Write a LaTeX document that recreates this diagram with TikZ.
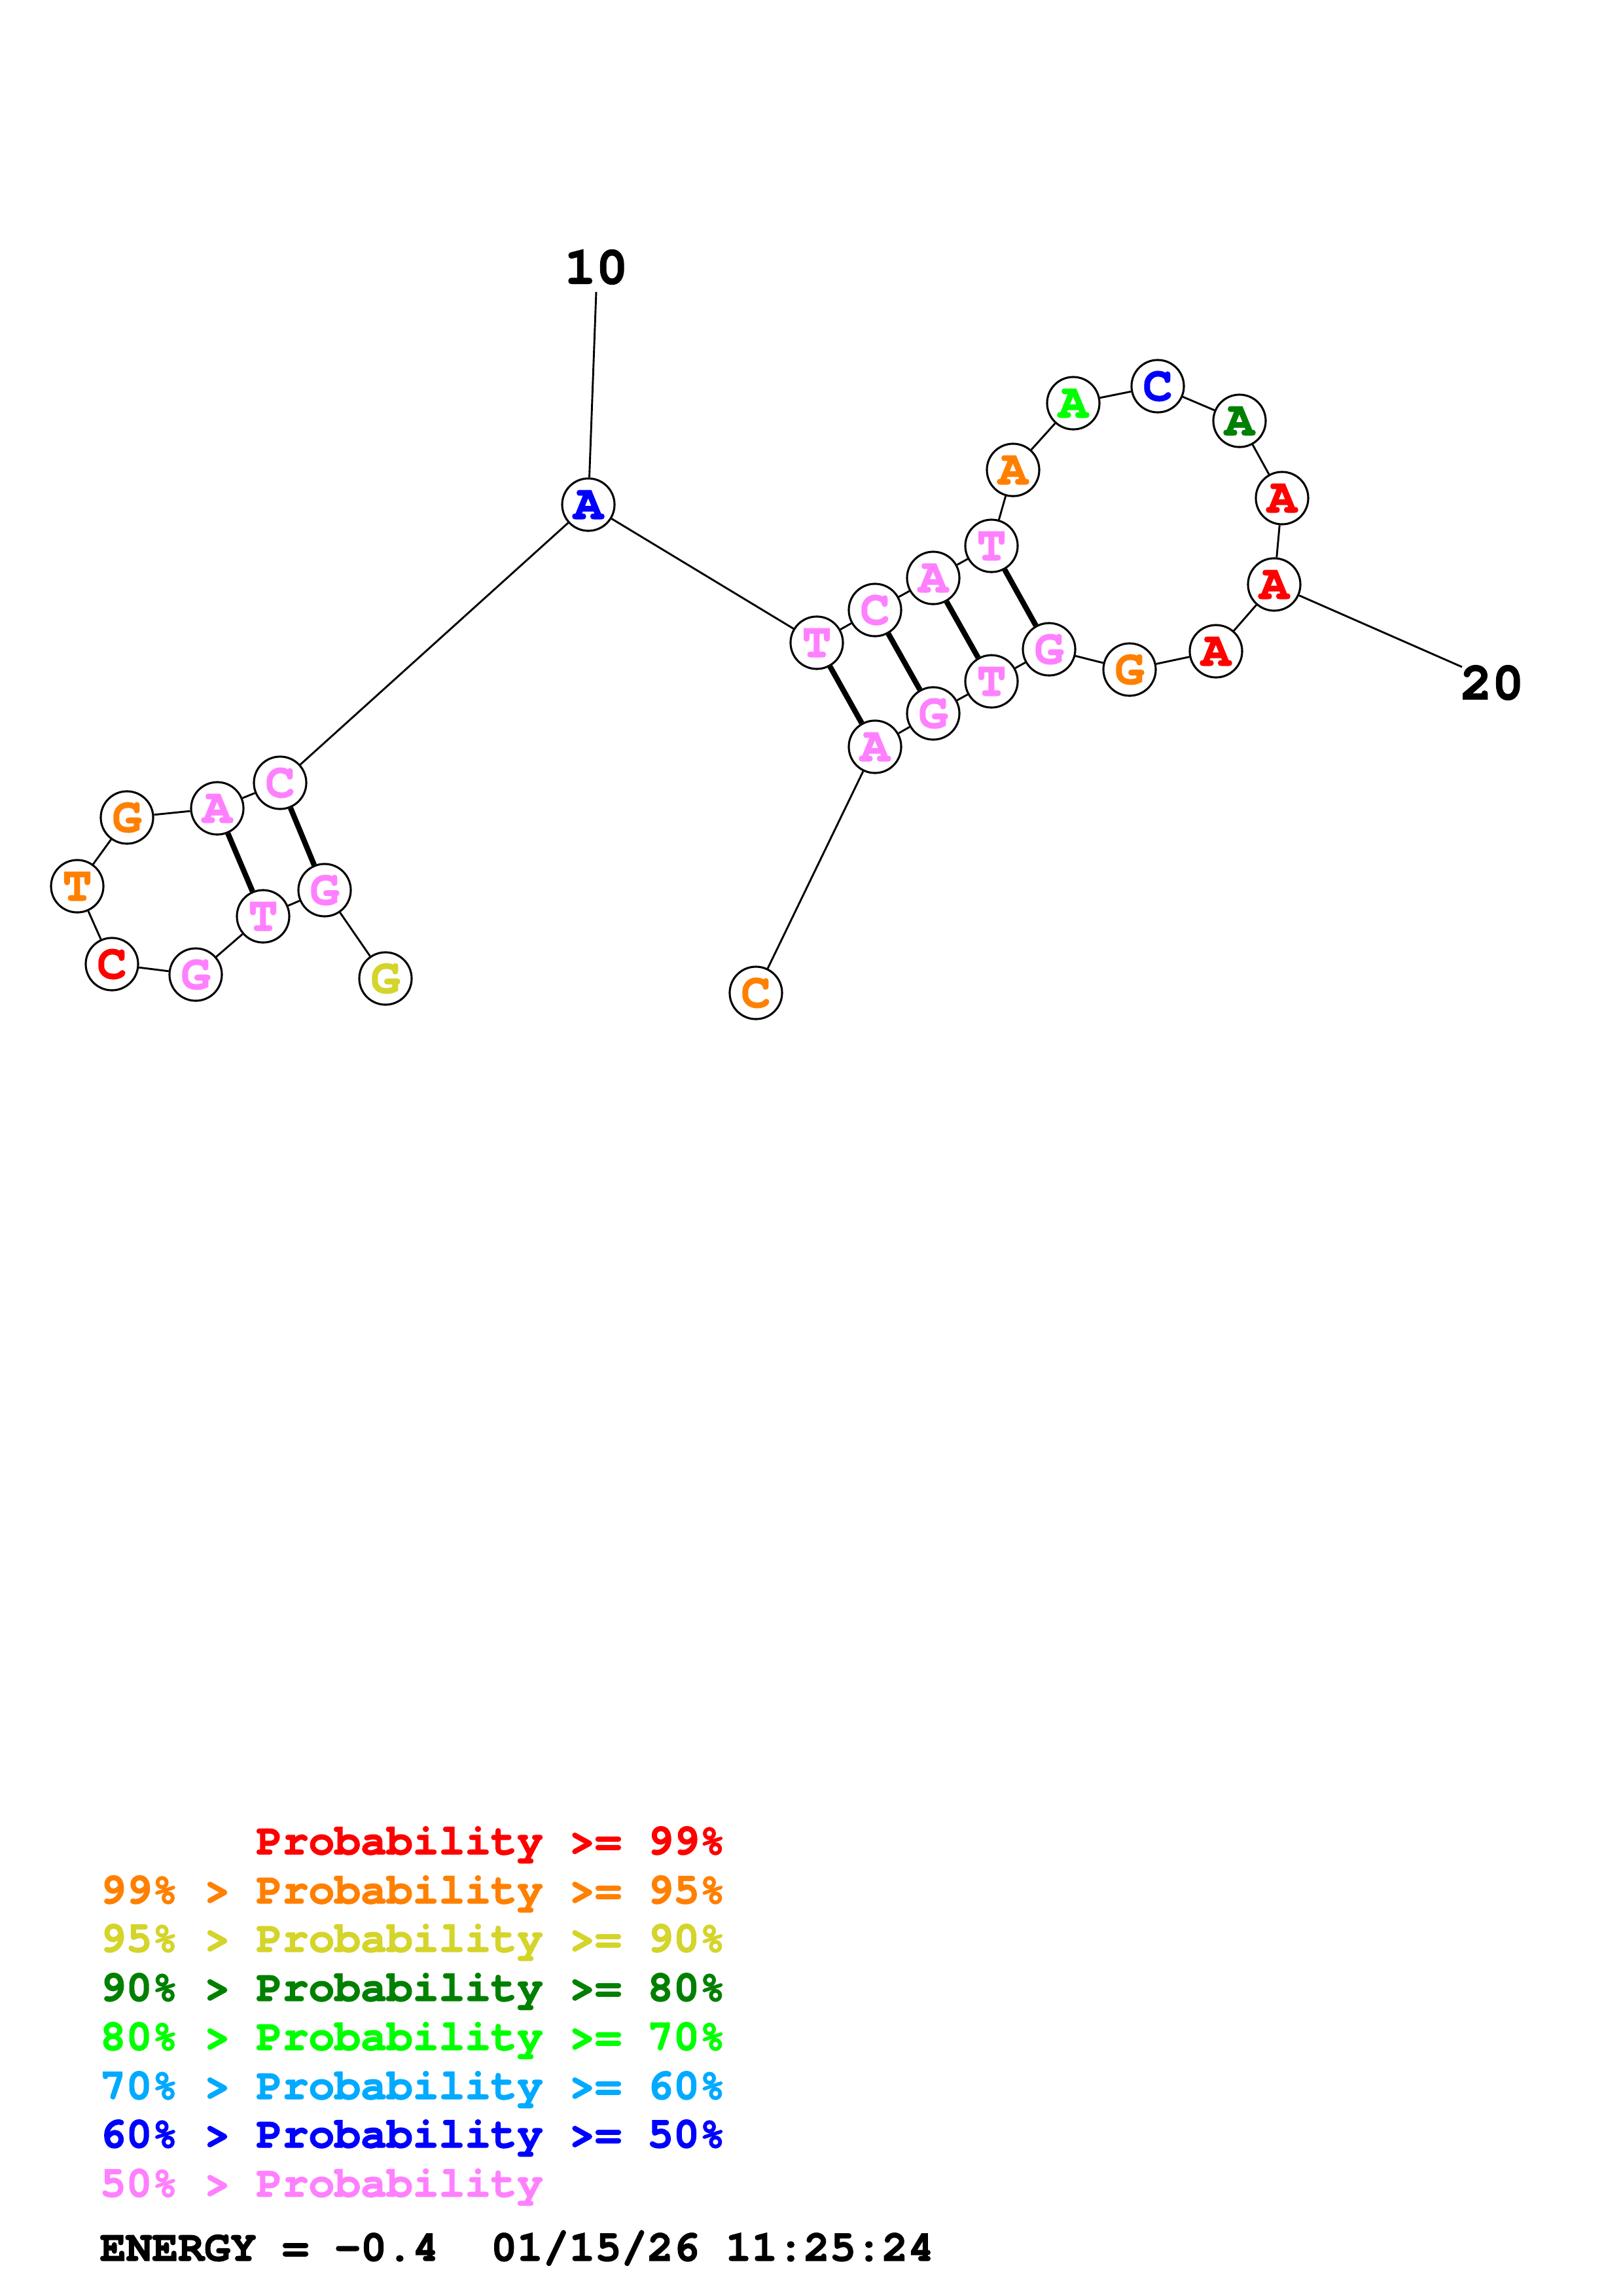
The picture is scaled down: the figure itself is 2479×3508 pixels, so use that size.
\documentclass[tikz,border=0pt]{standalone}
\usepackage{fontspec}
\newfontfamily\cour{TeX Gyre Cursor}[BoldFeatures={FakeBold=2}]
\definecolor{cR}{RGB}{255,0,0}
\definecolor{cO}{RGB}{255,128,0}
\definecolor{cY}{RGB}{212,212,42}
\definecolor{cDG}{RGB}{0,128,0}
\definecolor{cG}{RGB}{0,255,0}
\definecolor{cLB}{RGB}{0,170,255}
\definecolor{cB}{RGB}{0,0,255}
\definecolor{cP}{RGB}{255,128,255}
\begin{document}
\begin{tikzpicture}[x=0.08471mm,y=-0.08471mm,
  nt/.style={circle,draw,line width=0.75pt,fill=white,minimum size=6.78mm,inner sep=0pt,
    font={\cour\bfseries\fontsize{18pt}{20pt}\selectfont}},
  bb/.style={line width=0.7pt},
  pairline/.style={line width=2pt},
  numlab/.style={font={\cour\bfseries\fontsize{19.5pt}{22pt}\selectfont}},
  leg/.style={anchor=base west,inner sep=0pt,font={\cour\bfseries\fontsize{16pt}{19pt}\selectfont}}]
\path[use as bounding box] (0,0) rectangle (2479,3508);
% nucleotides
\node[nt,text=cY]  (n1)  at (589,1495) {G};
\node[nt,text=cP]  (n2)  at (496,1360) {G};
\node[nt,text=cP]  (n3)  at (402,1400) {T};
\node[nt,text=cP]  (n4)  at (299,1489) {G};
\node[nt,text=cR]  (n5)  at (171,1473) {C};
\node[nt,text=cO]  (n6)  at (118,1354) {T};
\node[nt,text=cO]  (n7)  at (194,1249) {G};
\node[nt,text=cP]  (n8)  at (332,1235) {A};
\node[nt,text=cP]  (n9)  at (428,1196) {C};
\node[nt,text=cB]  (n10) at (899,771) {A};
\node[nt,text=cP]  (n11) at (1248,982) {T};
\node[nt,text=cP]  (n12) at (1337,932) {C};
\node[nt,text=cP]  (n13) at (1426,883) {A};
\node[nt,text=cP]  (n14) at (1515,834) {T};
\node[nt,text=cO]  (n15) at (1548,718) {A};
\node[nt,text=cG]  (n16) at (1640,616) {A};
\node[nt,text=cB]  (n17) at (1769,590) {C};
\node[nt,text=cDG] (n18) at (1894,643) {A};
\node[nt,text=cR]  (n19) at (1959,761) {A};
\node[nt,text=cR]  (n20) at (1947,893) {A};
\node[nt,text=cR]  (n21) at (1858,995) {A};
\node[nt,text=cO]  (n22) at (1726,1023) {G};
\node[nt,text=cP]  (n23) at (1603,992) {G};
\node[nt,text=cP]  (n24) at (1515,1041) {T};
\node[nt,text=cP]  (n25) at (1426,1090) {G};
\node[nt,text=cP]  (n26) at (1337,1141) {A};
\node[nt,text=cO]  (n27) at (1155,1517) {C};
% backbone
\foreach \a/\b in {1/2,2/3,3/4,4/5,5/6,6/7,7/8,8/9,9/10,10/11,11/12,12/13,13/14,14/15,15/16,16/17,17/18,18/19,19/20,20/21,21/22,22/23,23/24,24/25,25/26,26/27}
  \draw[bb] (n\a) -- (n\b);
% pairs
\foreach \a/\b in {9/2,8/3,11/26,12/25,13/24,14/23}
  \draw[pairline] (n\a) -- (n\b);
% numbering
\node[numlab] (lab10) at (911,408) {10};
\coordinate (t10) at (911,446);
\draw[bb] (t10) -- (n10);
\node[numlab] (lab20) at (2280,1043) {20};
\coordinate (t20) at (2234,1019);
\draw[bb] (t20) -- (n20);
% legend
\node[leg,text=cR]  (L1) at (152,2833) {\phantom{99\% > }Probability >= 99\%};
\node[leg,text=cO]  (L2) at (152,2908) {99\% > Probability >= 95\%};
\node[leg,text=cY]  (L3) at (152,2982) {95\% > Probability >= 90\%};
\node[leg,text=cDG] (L4) at (152,3057) {90\% > Probability >= 80\%};
\node[leg,text=cG]  (L5) at (152,3132) {80\% > Probability >= 70\%};
\node[leg,text=cLB] (L6) at (152,3207) {70\% > Probability >= 60\%};
\node[leg,text=cB]  (L7) at (152,3281) {60\% > Probability >= 50\%};
\node[leg,text=cP]  (L8) at (152,3356) {50\% > Probability};
\node[leg,text=black] (L9) at (152,3454) {ENERGY = -0.4~~01/15/26 11:25:24};
\end{tikzpicture}
\end{document}
